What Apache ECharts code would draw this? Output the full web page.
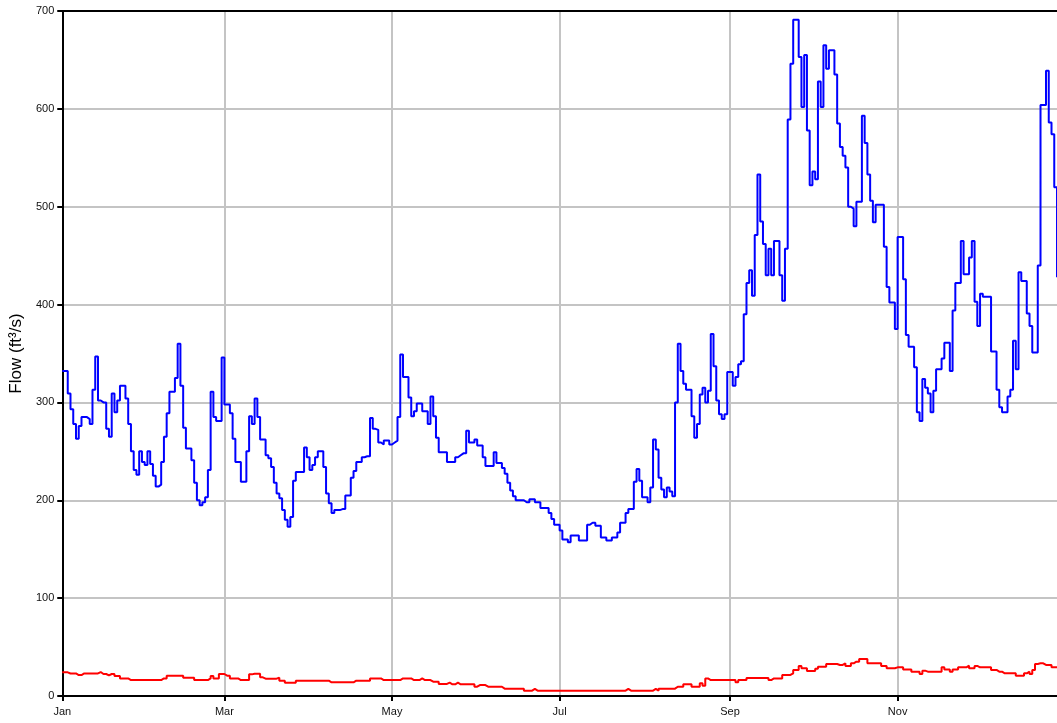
<!DOCTYPE html>
<html>
<head>
<meta charset="utf-8">
<title>Flow</title>
<script src="https://cdn.jsdelivr.net/npm/echarts@6/dist/echarts.min.js"></script>
<style>
  html, body { margin: 0; padding: 0; background: #fff; }
  #chart { width: 1057px; height: 723px; }
</style>
</head>
<body>
<div id="chart"></div>
<script>
// tick labels on the x axis (every second month)
const monthLabels = ['Jan', 'Mar', 'May', 'Jul', 'Sep', 'Nov']
const yTicks = [0, 100, 200, 300, 400, 500, 600, 700]

// daily flow, ft3/s, from Jan 1
const blueFlow = [
  332, 332, 309, 293, 278, 263, 276, 285, 285, 283,
  278, 313, 347, 302, 300, 300, 273, 265, 309, 290,
  302, 317, 317, 304, 278, 250, 231, 226, 250, 239,
  236, 250, 237, 225, 214, 216, 239, 265, 289, 311,
  311, 325, 360, 317, 274, 253, 253, 241, 218, 200,
  195, 198, 203, 231, 311, 285, 281, 281, 346, 298,
  298, 289, 263, 239, 239, 219, 219, 250, 286, 278,
  304, 285, 262, 262, 246, 243, 234, 218, 207, 202,
  190, 180, 173, 183, 220, 229, 229, 229, 254, 244,
  231, 236, 244, 250, 250, 234, 207, 197, 187, 190,
  190, 191, 191, 205, 205, 223, 230, 239, 239, 244,
  245, 245, 284, 273, 272, 259, 257, 261, 261, 257,
  259, 261, 285, 349, 326, 326, 305, 286, 291, 299,
  299, 291, 291, 278, 306, 286, 264, 249, 249, 249,
  239, 239, 239, 244, 246, 248, 248, 271, 259, 259,
  262, 256, 256, 244, 235, 235, 235, 249, 238, 238,
  233, 227, 218, 210, 204, 200, 200, 200, 198, 198,
  201, 201, 198, 198, 192, 192, 192, 187, 181, 175,
  175, 169, 160, 160, 157, 164, 164, 164, 159, 159,
  159, 175, 177, 177, 174, 174, 162, 162, 159, 159,
  162, 162, 167, 177, 177, 187, 191, 191, 219, 232,
  220, 203, 203, 198, 213, 262, 252, 223, 211, 203,
  213, 209, 204, 300, 360, 332, 319, 313, 313, 286,
  264, 278, 308, 315, 300, 312, 370, 337, 302, 288,
  283, 288, 331, 331, 317, 326, 339, 342, 390, 422,
  435, 409, 471, 533, 485, 462, 430, 457, 430, 465,
  465, 430, 404, 457, 589, 646, 691, 691, 653, 602,
  655, 578, 522, 536, 528, 628, 602, 665, 641, 660,
  660, 635, 585, 561, 552, 540, 500, 498, 480, 505,
  505, 593, 565, 533, 506, 484, 502, 502, 502, 459,
  418, 402, 402, 375, 469, 469, 426, 369, 357, 357,
  336, 290, 281, 324, 315, 309, 290, 312, 334, 334,
  345, 361, 361, 332, 394, 422, 422, 465, 431, 431,
  448, 465, 403, 378, 411, 408, 408, 408, 352, 352,
  313, 295, 290, 290, 306, 313, 363, 334, 433, 424,
  424, 391, 378, 351, 351, 440, 604, 604, 639, 586,
  574, 520, 428
]

const redFlow = [
  24.2, 24.2, 23, 23, 23, 21.4, 21.4, 23, 23, 23,
  23, 23, 23, 24.5, 22.5, 22.5, 21.1, 22.5, 22.5, 20.4,
  20.4, 18, 18, 18, 16.3, 16.3, 16.3, 16.3, 16.3, 16.3,
  16.3, 16.3, 16.3, 16.3, 16.3, 16.3, 18, 18, 20.8, 20.8,
  20.8, 20.8, 20.8, 20.8, 18.7, 18.7, 18.7, 18.7, 16.3, 16.3,
  16.3, 16.3, 16.3, 18, 20.4, 18, 18, 22.5, 22.5, 20.8,
  20.8, 18, 18, 18, 16.3, 16.3, 16.3, 16.3, 22.1, 22.8,
  22.8, 22.8, 19.1, 17.7, 17.7, 17.7, 17.7, 17.7, 18.7, 15.7,
  15.7, 13.6, 13.6, 13.6, 13.6, 15.7, 15.7, 15.7, 15.7, 15.7,
  15.7, 15.7, 15.7, 15.7, 15.7, 15.7, 15.7, 14, 14, 14,
  14, 14, 14, 14, 14, 14, 15.7, 15.7, 15.7, 15.7,
  15.7, 15.7, 18, 18, 18, 18, 16.3, 16.3, 16.3, 16.3,
  16.3, 16.3, 16.3, 18, 18, 18, 18, 16.3, 16.3, 16.3,
  18, 16.3, 16.3, 16.3, 14.6, 14.6, 14.6, 12.3, 12.3, 12.3,
  13.6, 12, 12, 13.6, 12, 12, 12, 12, 12, 12,
  9.5, 11.2, 11.2, 11.2, 9.5, 9.5, 9.5, 9.5, 9.5, 9.5,
  7.5, 7.5, 7.5, 7.5, 7.5, 7.5, 7.5, 7.5, 5.4, 5.4,
  5.4, 7.2, 5.4, 5.4, 5.4, 5.4, 5.4, 5.4, 5.4, 5.4,
  5.4, 5.4, 5.4, 5.4, 5.4, 5.4, 5.4, 5.4, 5.4, 5.4,
  5.4, 5.4, 5.4, 5.4, 5.4, 5.4, 5.4, 5.4, 5.4, 5.4,
  5.4, 5.4, 5.4, 5.4, 5.4, 7.2, 5.4, 5.4, 5.4, 5.4,
  5.4, 5.4, 5.4, 5.4, 5.4, 7.2, 5.4, 7.5, 7.5, 7.5,
  7.5, 7.5, 7.5, 9.5, 9.5, 9.5, 12, 12, 12, 9.5,
  9.5, 9.5, 13, 10.6, 18, 16.3, 16.3, 16.3, 16.3, 16.3,
  16.3, 16.3, 16.3, 16.3, 16.3, 14, 16.3, 16.3, 16.3, 18.4,
  18.4, 18.4, 18.4, 18.4, 18.4, 18.4, 18.4, 16.3, 18, 18,
  18, 18, 21.5, 21.5, 21.5, 23.2, 26.6, 26.6, 30.7, 28.3,
  28.3, 25.5, 25.5, 25.5, 27.9, 30, 30, 30, 32.7, 32.7,
  32.7, 32.7, 31.7, 31.7, 33.4, 30.7, 30.7, 33.4, 35.1, 35.1,
  37.8, 37.8, 37.8, 33.4, 33.4, 33.4, 33.4, 33.4, 30.7, 30.7,
  28.3, 28.3, 28.3, 29.3, 29.3, 29.3, 27.2, 27.2, 27.2, 24.9,
  24.9, 24.9, 22.5, 25.9, 24.9, 24.9, 24.9, 24.9, 24.9, 24.9,
  29.3, 27.2, 27.2, 24.9, 27.2, 27.2, 29.3, 29.3, 29.3, 31,
  28.3, 28.3, 30.7, 29.3, 29.3, 29.3, 29.3, 29.3, 26.6, 26.6,
  24.9, 24.9, 23.2, 23.2, 23.2, 23.2, 23.2, 20.8, 20.8, 20.8,
  23.2, 24.9, 22.5, 26.6, 32.7, 33.4, 33.4, 31.7, 31.7, 31.7,
  29.3, 29.3, 29.3
]

// one category per day, 'YYYY-MM-DD'
const days = blueFlow.map((_, i) => new Date(Date.UTC(2001, 0, 1 + i)).toISOString().slice(0, 10))

// ticks / grid lines on the 1st of every odd-numbered month (Jan, Mar, ...)
function isTickDay(index, value) {
  const v = value || days[index]
  const m = +v.slice(5, 7) - 1
  return v.slice(8, 10) === '01' && m % 2 === 0
}

const FONT = 'Liberation Sans, Arial, sans-serif'
const chart = echarts.init(document.getElementById('chart'))

chart.setOption({
  animation: false,
  backgroundColor: '#fff',
  grid: { left: 62, right: 0, top: 11, bottom: 27 },
  xAxis: [
    {
      type: 'category',
      data: days,
      boundaryGap: false,
      axisLine: { lineStyle: { color: '#000', width: 2 } },
      axisTick: { show: true, interval: isTickDay, length: 5, lineStyle: { color: '#000', width: 2 } },
      axisLabel: {
        interval: isTickDay,
        margin: 10,
        color: '#111',
        fontSize: 11,
        fontFamily: FONT,
        formatter: v => monthLabels[(+v.slice(5, 7) - 1) / 2]
      },
      splitLine: { show: true, interval: isTickDay, lineStyle: { color: '#c4c4c4', width: 2 } }
    },
    {
      // top frame line
      type: 'category',
      data: days,
      position: 'top',
      boundaryGap: false,
      axisLine: { lineStyle: { color: '#000', width: 2 } },
      axisTick: { show: false },
      axisLabel: { show: false },
      splitLine: { show: false }
    }
  ],
  yAxis: {
    type: 'value',
    min: yTicks[0],
    max: yTicks[yTicks.length - 1],
    interval: 100,
    name: 'Flow (ft³/s)',
    nameLocation: 'middle',
    nameGap: 35,
    nameRotate: 90,
    nameTextStyle: { color: '#000', fontSize: 17, fontFamily: FONT },
    axisLine: { show: true, lineStyle: { color: '#000', width: 2 } },
    axisTick: { show: true, length: 5, lineStyle: { color: '#000', width: 2 } },
    axisLabel: { margin: 8, color: '#111', fontSize: 11, fontFamily: FONT },
    splitLine: { lineStyle: { color: '#c4c4c4', width: 2 } }
  },
  series: [
    {
      name: 'blue',
      type: 'line',
      step: 'end',
      data: blueFlow,
      showSymbol: false,
      lineStyle: { color: '#0000ff', width: 2 },
      itemStyle: { color: '#0000ff' }
    },
    {
      name: 'red',
      type: 'line',
      step: 'end',
      data: redFlow,
      showSymbol: false,
      lineStyle: { color: '#ff0000', width: 2 },
      itemStyle: { color: '#ff0000' }
    }
  ]
})
</script>
</body>
</html>
